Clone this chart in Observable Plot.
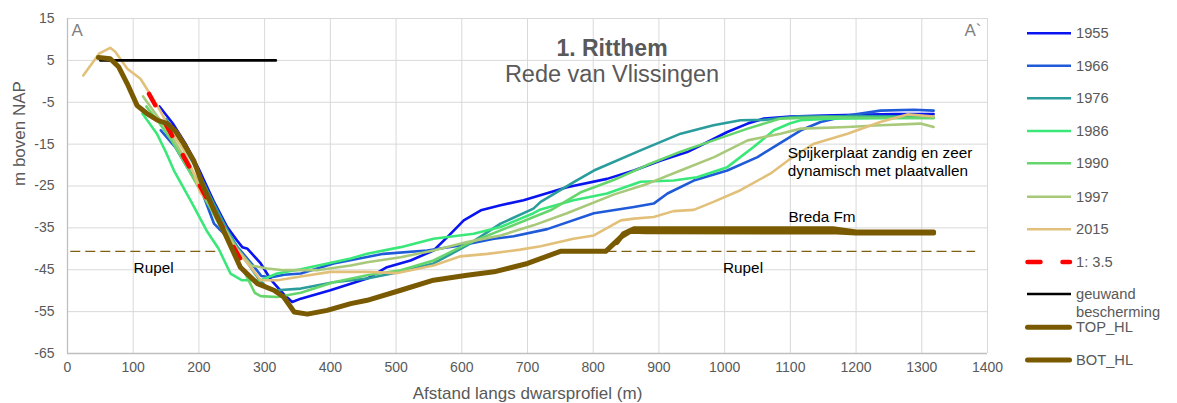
<!DOCTYPE html>
<html>
<head>
<meta charset="utf-8">
<script src="https://cdn.jsdelivr.net/npm/d3@7"></script>
<script src="https://cdn.jsdelivr.net/npm/@observablehq/plot@0.6"></script>
<style>
  html, body { margin: 0; padding: 0; background: #fff; }
  #wrap { position: relative; width: 1177px; height: 403px; font-family: "Liberation Sans", Arial, sans-serif; }
  #legend { position: absolute; left: 0; top: 0; }
</style>
</head>
<body>
<div id="wrap"></div>
<script>
// ---- data (distance m, level m NAP) ----
const xTicks = [0,100,200,300,400,500,600,700,800,900,1000,1100,1200,1300,1400];
const yTicks = [-65,-55,-45,-35,-25,-15,-5,5,15];

const s1955 = [[140,-6],[160,-10],[180,-15],[200,-21],[222,-28.5],[243,-34.8],[258,-38],[266,-39.6],[274,-40],[294,-43.5],[310,-47.5],[330,-51],[342,-52.7],[355,-51.9],[400,-49.9],[456,-47.1],[486,-44.4],[522,-42.8],[557,-40.4],[578,-37.2],[603,-33.2],[629,-30.8],[659,-29.6],[694,-28.4],[760,-25.3],[821,-23.3],[862,-21.3],[903,-18.9],[943,-16.9],[974,-14.5],[1004,-12.1],[1035,-10.1],[1060,-8.9],[1100,-8.4],[1150,-8.2],[1200,-8],[1260,-7.8],[1318,-7.8]];
const s1966 = [[142,-11.7],[164,-15.7],[182,-20.5],[202,-25.3],[223,-34],[243,-37.2],[261,-40],[280,-43.5],[295,-46.5],[310,-46.8],[330,-46.2],[355,-45.9],[405,-43.5],[481,-41.2],[547,-40.4],[598,-39.2],[649,-37.6],[679,-37],[730,-35.3],[801,-31.5],[862,-30],[892,-29.2],[913,-26.8],[953,-23.7],[1004,-21.3],[1050,-18.1],[1085,-14.7],[1116,-11.7],[1146,-9.7],[1187,-8.2],[1237,-7],[1288,-6.8],[1318,-7]];
const s1976 = [[150,-9],[175,-15],[200,-22],[222,-29],[245,-36],[268,-42],[290,-47],[305,-49.5],[319,-49.9],[355,-49.5],[405,-48],[456,-47.1],[507,-45.5],[557,-43.5],[608,-39.2],[659,-34],[709,-30.4],[720,-28.8],[771,-24],[801,-21.3],[872,-16.5],[933,-12.5],[983,-10.5],[1024,-9.3],[1060,-9.2],[1111,-8.4],[1200,-8.3],[1318,-8.4]];
const s1986 = [[114,-7.7],[136,-12.5],[150,-17],[162,-21.3],[187,-28.4],[213,-36],[230,-40],[248,-45.9],[265,-47.5],[294,-47.5],[319,-45.9],[355,-44.9],[431,-42.3],[456,-41.2],[507,-39.6],[557,-37.6],[618,-36.4],[659,-34.8],[709,-31.5],[720,-30.6],[770,-28.4],[821,-26.8],[872,-24],[922,-23.7],[958,-22.9],[1004,-20.5],[1044,-15.7],[1075,-11.7],[1100,-10],[1116,-9.3],[1160,-8.9],[1318,-8.7]];
const s1990 = [[120,-6],[140,-10],[160,-14.5],[180,-20],[200,-25.5],[220,-31],[240,-37],[260,-43],[273,-46.7],[285,-50.5],[294,-51.3],[319,-51.5],[355,-50.5],[405,-48],[456,-46.3],[507,-45.1],[557,-42.8],[608,-38.8],[659,-35.6],[735,-30.8],[781,-26.5],[832,-23.5],[882,-20],[933,-16.8],[983,-14.1],[1035,-11.3],[1085,-8.9],[1150,-8.6],[1318,-8.8]];
const s1997 = [[115,-3.6],[135,-8],[160,-13.5],[185,-20],[210,-27],[235,-34],[258,-40],[280,-44],[304,-44.7],[329,-45.1],[380,-45.1],[431,-44],[456,-43.2],[507,-42],[557,-40.4],[608,-38.4],[659,-36.8],[709,-34.4],[760,-31.5],[832,-27],[882,-24.5],[933,-21.3],[984,-18.1],[1035,-14.1],[1085,-12.5],[1116,-11.3],[1187,-10.9],[1237,-10.5],[1298,-10.1],[1318,-10.9]];
const s2015 = [[24,1.4],[48,6.6],[65,8],[73,7],[91,3],[111,0.6],[124,-2.6],[141,-7],[157,-11.7],[177,-16.5],[192,-22],[202,-26.5],[213,-28.4],[228,-32.5],[253,-39.6],[279,-44.4],[294,-47.5],[320,-47.5],[355,-46.6],[400,-45.5],[456,-45.5],[502,-45.8],[557,-44],[598,-41.8],[639,-41.2],[689,-40.2],[720,-39.4],[770,-37.6],[801,-36.8],[842,-33.2],[862,-32.8],[892,-32.4],[922,-31],[953,-30.7],[983,-28.8],[1024,-26],[1070,-22],[1100,-18.5],[1136,-14.9],[1187,-12.5],[1237,-9.7],[1278,-7.9],[1318,-8.4]];
const slope = [[124,-3],[265,-43]];
const geuwand = [[50,5],[317,5]];
const botHL = [[47,5.7],[65,5.4],[78,3.4],[91,-0.6],[106,-5.8],[121,-7.7],[137,-9.3],[152,-10.1],[165,-12],[177,-14.9],[192,-18.9],[207,-25.3],[223,-30.8],[243,-37.5],[263,-44.4],[289,-48.3],[314,-49.9],[329,-51.5],[345,-55.1],[365,-55.6],[395,-54.7],[431,-53.1],[456,-52.3],[507,-49.9],[557,-47.5],[608,-46.3],[649,-45.5],[700,-43.5],[750,-40.6],[819,-40.6],[842,-37.2],[857,-35.8],[880,-35.9],[1170,-36],[1200,-36.2],[1318,-36.2]];
const topHL = [[836,-38.5],[846,-36.4],[862,-35.2],[1165,-35.2],[1200,-36],[1318,-36]];
// Rupel top boundary: [x start, x end, level]
const rupel = [[5,228,-40.6],[821,1382,-40.6]];

const seriesNames = ["1955","1966","1976","1986","1990","1997","2015","1: 3.5","geuwand\nbescherming","TOP_HL","BOT_HL"];
const seriesColors = ["#0a14f0","#1f5ad8","#2a9c9c","#3ae87a","#66d56c","#a8c97a","#e2c07a","#ff0000","#000000","#7a5a00","#7a5a00"];

// ---- chart ----
const xy = {x: d => d[0], y: d => d[1]};
const yearSeries = [s1955, s1966, s1976, s1986, s1990, s1997, s2015];
const font = "'Liberation Sans', Arial, sans-serif";

const chart = Plot.plot({
  width: 1177,
  height: 403,
  marginLeft: 67,
  marginRight: 190,
  marginTop: 18,
  marginBottom: 50,
  style: {fontFamily: font, background: "#fff"},
  x: {domain: [0, 1400]},
  y: {domain: [-65, 15]},
  marks: [
    Plot.gridX(xTicks, {stroke: "#d9d9d9", strokeOpacity: 1, strokeWidth: 1}),
    Plot.gridY(yTicks, {stroke: "#d9d9d9", strokeOpacity: 1, strokeWidth: 1}),
    Plot.ruleY([-65], {stroke: "#bfbfbf", strokeWidth: 1.3}),
    Plot.ruleX([0], {stroke: "#bfbfbf", strokeWidth: 1.3}),
    Plot.axisX(xTicks, {tickSize: 0, tickPadding: 9, fontSize: 14, fill: "#595959", label: null, tickFormat: d => String(d)}),
    Plot.axisY(yTicks, {tickSize: 0, tickPadding: 13, fontSize: 14, fill: "#595959", label: null, tickFormat: d => String(d)}),
    Plot.text(["Afstand langs dwarsprofiel (m)"], {frameAnchor: "bottom", dy: 40, fontSize: 17, fill: "#595959", lineAnchor: "middle"}),
    Plot.text(["m boven NAP"], {frameAnchor: "left", dx: -48, rotate: -90, fontSize: 17, fill: "#595959", lineAnchor: "middle"}),
    // Rupel boundaries
    Plot.ruleY(rupel, {y: d => d[2], x1: d => d[0], x2: d => d[1], stroke: "#7f6010", strokeWidth: 1.3, strokeDasharray: "10,5"}),
    // survey lines
    ...yearSeries.map((s, i) => Plot.line(s, {...xy, stroke: seriesColors[i], strokeWidth: 2.6, strokeLinejoin: "round", strokeLinecap: "round"})),
    Plot.line(geuwand, {...xy, stroke: seriesColors[8], strokeWidth: 2.6, strokeLinecap: "round"}),
    Plot.line(slope, {...xy, stroke: seriesColors[7], strokeWidth: 4.5, strokeDasharray: "13,22", strokeLinecap: "round"}),
    Plot.line(topHL, {...xy, stroke: seriesColors[9], strokeWidth: 5, strokeLinejoin: "round", strokeLinecap: "round"}),
    Plot.line(botHL, {...xy, stroke: seriesColors[10], strokeWidth: 5, strokeLinejoin: "round", strokeLinecap: "round"}),
    // annotations
    Plot.text(["1. Ritthem"], {frameAnchor: "top", dx: 84.5, dy: 30, fontSize: 23, fontWeight: "bold", fill: "#595959", lineAnchor: "middle"}),
    Plot.text(["Rede van Vlissingen"], {frameAnchor: "top", dx: 84.5, dy: 56, fontSize: 23.5, fill: "#595959", lineAnchor: "middle"}),
    Plot.text(["A"], {frameAnchor: "top-left", dx: 4, dy: 12, fontSize: 17, fill: "#7f7f7f", textAnchor: "start", lineAnchor: "middle"}),
    Plot.text(["A`"], {frameAnchor: "top-right", dx: -6, dy: 12, fontSize: 17, fill: "#7f7f7f", textAnchor: "end", lineAnchor: "middle"}),
    Plot.text([[131, -44.7, "Rupel"], [1028, -44.7, "Rupel"]], {x: d => d[0], y: d => d[1], text: d => d[2], fontSize: 15.3, fill: "#000", lineAnchor: "middle"}),
    Plot.text([[1096, -19, "Spijkerplaat zandig en zeer\ndynamisch met plaatvallen"]], {x: d => d[0], y: d => d[1], text: d => d[2], fontSize: 15.3, fill: "#000", textAnchor: "start", lineAnchor: "middle", lineHeight: 1.17}),
    Plot.text([[1097, -32.5, "Breda Fm"]], {x: d => d[0], y: d => d[1], text: d => d[2], fontSize: 15.3, fill: "#000", textAnchor: "start", lineAnchor: "middle"})
  ]
});
const wrap = document.getElementById("wrap");
wrap.appendChild(chart);

// ---- legend ----
const legY = [33.3, 65.7, 98.3, 131, 163.3, 196.7, 229.3, 262, 294, 327.3, 360];
const leg = d3.select(wrap).append("svg").attr("id", "legend").attr("width", 1177).attr("height", 403)
  .style("font-family", font);
seriesNames.forEach((name, i) => {
  const y = legY[i];
  const g = leg.append("g");
  const ln = g.append("line").attr("x1", 1027).attr("x2", 1071).attr("y1", y).attr("y2", y)
    .attr("stroke", seriesColors[i]);
  if (i < 7 || i === 8) ln.attr("stroke-width", 2.6);
  else if (i === 7) ln.attr("stroke-width", 4.5).attr("stroke-dasharray", "13,22").attr("stroke-linecap", "round").attr("x1", 1027.5).attr("x2", 1070);
  else ln.attr("stroke-width", 5).attr("stroke-linecap", "round").attr("x1", 1027.5).attr("x2", 1069.5);
  const lines = name.split("\n");
  lines.forEach((t, j) => {
    g.append("text").attr("x", 1076).attr("y", y + j * 18).attr("dy", "0.35em")
      .attr("font-size", 14.7).attr("fill", "#595959").text(t);
  });
});
</script>
</body>
</html>
